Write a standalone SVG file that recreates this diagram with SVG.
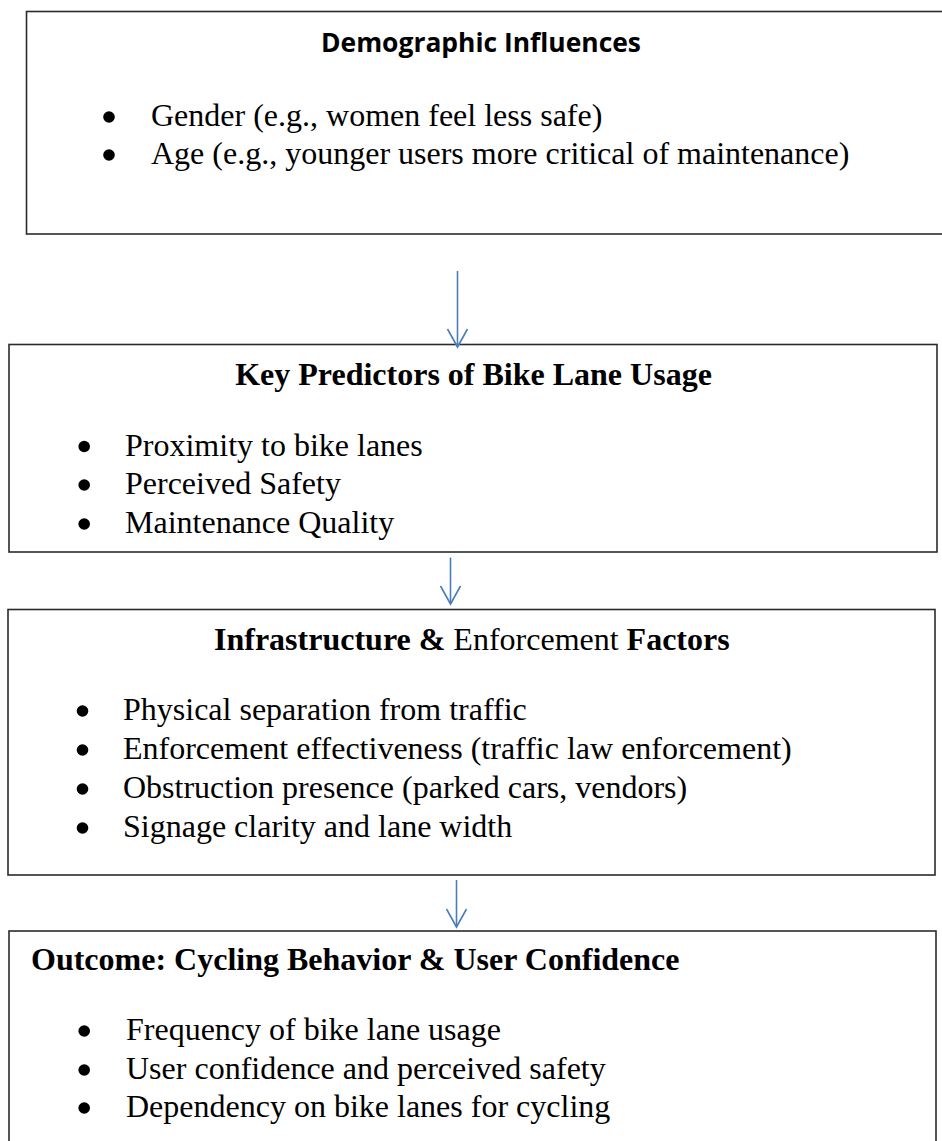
<svg xmlns="http://www.w3.org/2000/svg" width="942" height="1141" viewBox="0 0 942 1141">
  <style>
    .box { fill: #ffffff; stroke: #2b2b2b; stroke-width: 1.6; }
    .body { font-family: "Liberation Serif", "Times New Roman", serif; font-size: 32px; fill: #000000; }
    .bold { font-weight: bold; }
    .sanshead { font-family: "Open Sans", "Liberation Sans", sans-serif; font-size: 27px; font-weight: bold; fill: #000000; }
    .dot { fill: #000000; }
    .link { stroke: #4a7ebb; stroke-width: 1.6; fill: none; }
  </style>
  <defs>
    <!-- open V arrowhead, drawn pointing along +x so orient="auto" follows the line -->
    <marker id="openArrow" markerUnits="userSpaceOnUse" markerWidth="22" markerHeight="24" refX="19" refY="12" orient="auto" viewBox="0 0 22 24">
      <path d="M1 2 L19 12 L1 22" fill="none" stroke="#4a7ebb" stroke-width="1.6"/>
    </marker>
  </defs>
  <rect x="0" y="0" width="942" height="1141" fill="#ffffff"/>

  <!-- Demographic influences -->
  <g id="demographic">
    <rect class="box" x="26.5" y="11.5" width="930" height="222.5"/>
    <text class="sanshead" x="321" y="51.5" textLength="320" lengthAdjust="spacingAndGlyphs">Demographic Influences</text>
    <circle class="dot" cx="109" cy="117" r="5.8"/>
    <text class="body" x="151" y="126">Gender (e.g., women feel less safe)</text>
    <circle class="dot" cx="109" cy="155" r="5.8"/>
    <text class="body" x="151" y="164">Age (e.g., younger users more critical of maintenance)</text>
  </g>

  <!-- Key predictors -->
  <g id="predictors">
    <rect class="box" x="9" y="344.5" width="928" height="207.5"/>
    <text class="body bold" x="473.5" y="385" text-anchor="middle">Key Predictors of Bike Lane Usage</text>
    <circle class="dot" cx="84.2" cy="446.5" r="5.8"/>
    <text class="body" x="125" y="455.5">Proximity to bike lanes</text>
    <circle class="dot" cx="84.2" cy="485" r="5.8"/>
    <text class="body" x="125" y="494">Perceived Safety</text>
    <circle class="dot" cx="84.2" cy="524" r="5.8"/>
    <text class="body" x="125" y="533">Maintenance Quality</text>
  </g>

  <!-- Infrastructure and enforcement -->
  <g id="infrastructure">
    <rect class="box" x="8" y="609.5" width="927" height="265.5"/>
    <text class="body" x="214" y="650"><tspan class="bold">Infrastructure &amp;</tspan> Enforcement <tspan class="bold">Factors</tspan></text>
    <circle class="dot" cx="82.5" cy="711" r="5.8"/>
    <text class="body" x="123" y="720">Physical separation from traffic</text>
    <circle class="dot" cx="82.5" cy="750" r="5.8"/>
    <text class="body" x="123" y="759">Enforcement effectiveness (traffic law enforcement)</text>
    <circle class="dot" cx="82.5" cy="789" r="5.8"/>
    <text class="body" x="123" y="798">Obstruction presence (parked cars, vendors)</text>
    <circle class="dot" cx="82.5" cy="828" r="5.8"/>
    <text class="body" x="123" y="837">Signage clarity and lane width</text>
  </g>

  <!-- Outcome -->
  <g id="outcome">
    <rect class="box" x="9" y="931" width="927" height="240"/>
    <text class="body bold" x="31" y="970">Outcome: Cycling Behavior &amp; User Confidence</text>
    <circle class="dot" cx="84.2" cy="1031" r="5.8"/>
    <text class="body" x="126" y="1040">Frequency of bike lane usage</text>
    <circle class="dot" cx="84.2" cy="1070" r="5.8"/>
    <text class="body" x="126" y="1079">User confidence and perceived safety</text>
    <circle class="dot" cx="84.2" cy="1108" r="5.8"/>
    <text class="body" x="126" y="1117">Dependency on bike lanes for cycling</text>
  </g>

  <!-- Connectors -->
  <g id="connectors">
    <line class="link" x1="457.5" y1="271" x2="457.5" y2="347" marker-end="url(#openArrow)"/>
    <line class="link" x1="450.5" y1="557.5" x2="450.5" y2="604" marker-end="url(#openArrow)"/>
    <line class="link" x1="456.5" y1="880" x2="456.5" y2="927" marker-end="url(#openArrow)"/>
  </g>
</svg>
